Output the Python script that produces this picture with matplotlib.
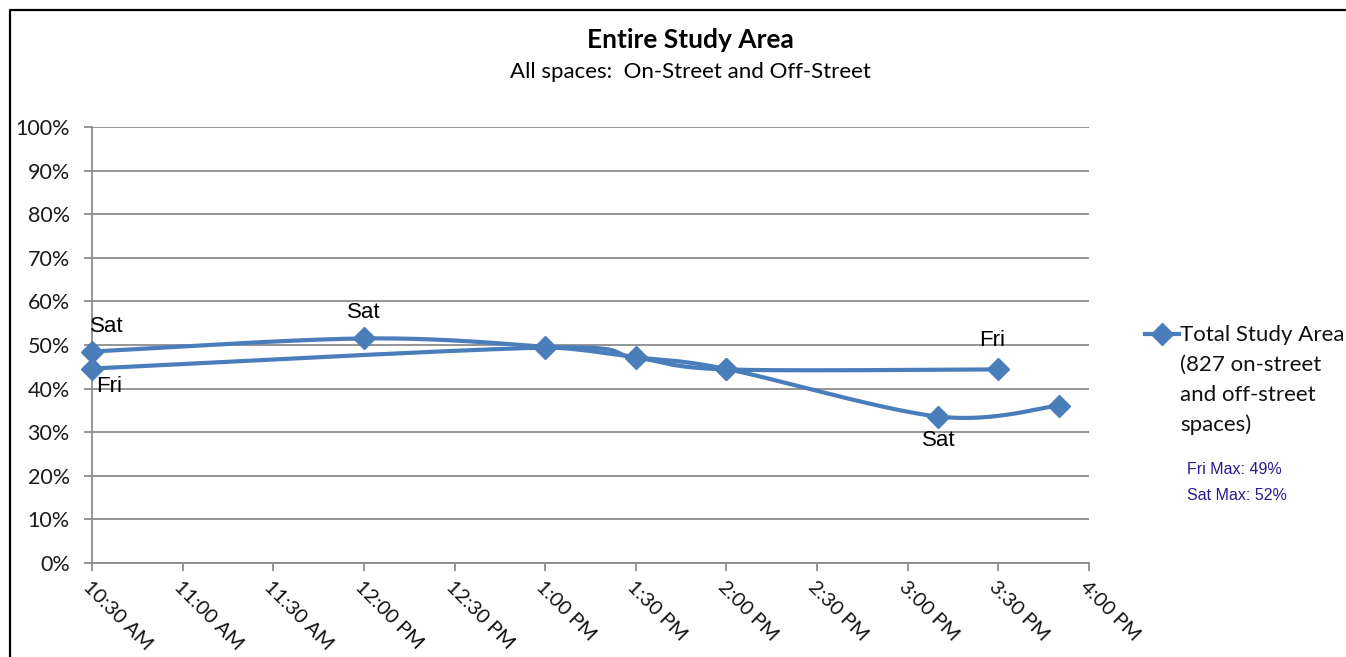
import numpy as np
import matplotlib
matplotlib.use("Agg")
import matplotlib.pyplot as plt
import matplotlib.transforms as mtransforms
from matplotlib.lines import Line2D

# ---- data -------------------------------------------------------------
tick_labels = ["10:30 AM", "11:00 AM", "11:30 AM", "12:00 PM", "12:30 PM",
               "1:00 PM", "1:30 PM", "2:00 PM", "2:30 PM", "3:00 PM",
               "3:30 PM", "4:00 PM"]

fri_times = ["10:30", "13:00", "13:30", "14:00", "15:30"]
fri_values = [44.6, 49.4, 47.1, 44.4, 44.4]

sat_times = ["10:30", "12:00", "13:00", "13:30", "14:00", "15:10", "15:50"]
sat_values = [48.5, 51.5, 49.6, 47.2, 44.5, 33.6, 36.1]

# (series, point index, label)
point_labels = [("sat", 0, "Sat"), ("fri", 0, "Fri"), ("sat", 1, "Sat"),
                ("fri", 4, "Fri"), ("sat", 5, "Sat")]

fri_max = "Fri Max: 49%"
sat_max = "Sat Max: 52%"

# label offsets in pixels (dx, dy upward)
label_offsets = [(15, 25), (17, -18), (0, 26), (-6, 29), (1, -24)]


def to_minutes(t):
    h, m = t.split(":")
    return int(h) * 60 + int(m)


def smooth(x, y, n=60):
    """Bezier-smoothed polyline through the points (Excel style)."""
    P = np.column_stack([x, y]).astype(float)
    out = []
    for i in range(len(P) - 1):
        p0 = P[max(i - 1, 0)]
        p1 = P[i]
        p2 = P[i + 1]
        p3 = P[min(i + 2, len(P) - 1)]
        c1 = p1 + (p2 - p0) / 6.0
        c2 = p2 - (p3 - p1) / 6.0
        t = np.linspace(0, 1, n)[:, None]
        seg = ((1 - t) ** 3) * p1 + 3 * ((1 - t) ** 2) * t * c1 \
            + 3 * (1 - t) * (t ** 2) * c2 + (t ** 3) * p2
        out.append(seg if i == 0 else seg[1:])
    return np.vstack(out)


# ---- figure -----------------------------------------------------------
W, H = 1346, 657
CAL = ["Lato", "DejaVu Sans"]
ARIAL = ["Liberation Sans", "DejaVu Sans"]
BLUE = "#4A7EBB"
GRID = "#8c8c8c"
PX = 72 / 100  # points per pixel

fig = plt.figure(figsize=(W / 100, H / 100), dpi=100)
ax = fig.add_axes([92 / W, (H - 563) / H, (1089 - 92) / W, (563 - 127) / H])

fx = np.array([to_minutes(t) for t in fri_times])
sx = np.array([to_minutes(t) for t in sat_times])
fy = np.array(fri_values)
sy = np.array(sat_values)

for x, y in ((sx, sy), (fx, fy)):
    curve = smooth(x, y)
    ax.plot(curve[:, 0], curve[:, 1], color=BLUE, lw=3.0,
            solid_capstyle="round", zorder=3, clip_on=False)
    ax.plot(x, y, linestyle="none", marker="D", ms=11.5, color=BLUE,
            mec=BLUE, zorder=4, clip_on=False)

series = {"fri": (fx, fy), "sat": (sx, sy)}
for (name, idx, text), (dx, dy) in zip(point_labels, label_offsets):
    x, y = series[name]
    ax.annotate(text, (x[idx], y[idx]), xytext=(dx * PX, dy * PX),
                textcoords="offset points", ha="center", va="center",
                fontsize=16, family=ARIAL, color="black", zorder=5)

x0 = to_minutes("10:30")
ax.set_xlim(x0, x0 + 30 * (len(tick_labels) - 1))
ax.set_ylim(0, 100)
ax.set_xticks([x0 + 30 * i for i in range(len(tick_labels))])
ax.set_xticklabels(tick_labels, rotation=-45, ha="left", va="top",
                   rotation_mode="anchor", family=CAL, fontsize=14.5,
                   color="#111111")
ax.set_yticks(np.arange(0, 101, 10))
ax.set_yticklabels([f"{v}%" for v in range(0, 101, 10)], family=CAL,
                   fontsize=15.5, color="#1a1a1a")

shift = mtransforms.ScaledTranslation(6 / 100, 0, fig.dpi_scale_trans)
for lab in ax.get_xticklabels():
    lab.set_transform(lab.get_transform() + shift)

ax.yaxis.grid(True, color=GRID, lw=1.3)
ax.set_axisbelow(True)
for s in ("top", "right"):
    ax.spines[s].set_visible(False)
for s in ("left", "bottom"):
    ax.spines[s].set_color(GRID)
    ax.spines[s].set_linewidth(1.3)
ax.tick_params(axis="both", direction="out", length=6, width=1.3,
               color=GRID)
ax.tick_params(axis="y", pad=10)
ax.tick_params(axis="x", pad=5)

# titles
fig.text(690 / W, 1 - 40 / H, "Entire Study Area", ha="center",
         va="center", fontsize=19, fontweight="bold", family=CAL)
fig.text(690 / W, 1 - 72 / H, "All spaces:  On-Street and Off-Street",
         ha="center", va="center", fontsize=16, family=CAL)

# legend
fig.add_artist(Line2D([1145 / W, 1179 / W], [1 - 334 / H, 1 - 334 / H],
                      color=BLUE, lw=3.0, transform=fig.transFigure))
fig.add_artist(Line2D([1162 / W], [1 - 334 / H], color=BLUE, marker="D",
                      ms=11.5, linestyle="none", transform=fig.transFigure))
legend_lines = ["Total Study Area", "(827 on-street", "and off-street",
                "spaces)"]
for i, line in enumerate(legend_lines):
    fig.text(1180 / W, 1 - (335 + 30 * i) / H, line, ha="left",
             va="center", fontsize=16, family=CAL, color="#111111")

fig.text(1187 / W, 1 - 470 / H, fri_max, ha="left", va="center",
         fontsize=11.5, family=ARIAL, color="#2a1a8a")
fig.text(1187 / W, 1 - 495 / H, sat_max, ha="left", va="center",
         fontsize=11.5, family=ARIAL, color="#2a1a8a")

# frame
fig.add_artist(Line2D([10 / W, 10 / W, 1.0], [0.0, 1 - 10 / H, 1 - 10 / H],
                      color="black", lw=1.6, transform=fig.transFigure))

fig.savefig("out.png", dpi=100)
